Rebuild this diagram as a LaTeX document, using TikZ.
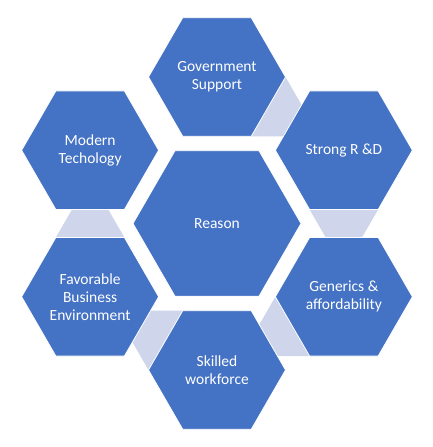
\documentclass[tikz,border=0pt]{standalone}
\usepackage{fontspec}
\setmainfont{Carlito}
\usetikzlibrary{shapes.geometric,calc,backgrounds}

\definecolor{hexblue}{HTML}{4472C4}
\definecolor{linkgray}{HTML}{CFD5EA}

\tikzset{
  hexa/.style={regular polygon, regular polygon sides=6, fill=hexblue, draw=white,
    line width=0.8pt, inner sep=0pt, outer sep=0pt, minimum size=137pt,
    text=white, align=center, font=\fontsize{15.5}{18}\selectfont},
  hub/.style={hexa, minimum size=168pt},
  link/.style={fill=linkgray}
}

\begin{document}
\begin{tikzpicture}[x=1pt, y=1pt]
	\useasboundingbox (0,0) rectangle (432,447);
	% centre and ring of six
	\node[hub] (reason) at (217,223.5) {Reason};
	\node[hexa] (gov)    at ($(reason)+(90:146.5)$)  {Government\\Support};
	\node[hexa] (strong) at ($(reason)+(30:146.5)$)  {Strong R \&D};
	\node[hexa] (gen)    at ($(reason)+(-30:146.5)$) {Generics \&\\affordability};
	\node[hexa] (skill)  at ($(reason)+(-90:146.5)$) {Skilled\\workforce};
	\node[hexa] (fav)    at ($(reason)+(210:146.5)$) {Favorable\\Business\\Environment};
	\node[hexa] (modern) at ($(reason)+(150:146.5)$) {Modern\\Techology};
	
	% light links between neighbours
	\begin{pgfonlayer}{background}
		\foreach \a/\p in {gov/-30, strong/-90, gen/-150, skill/150, fav/90}
			\fill[link] ($(\a)+({\p+30}:68.5)$) -- ($(\a)+({\p-30}:68.5)$) -- ($(\a)+(\p:118.6)$) -- cycle;
	\end{pgfonlayer}
\end{tikzpicture}
\end{document}
